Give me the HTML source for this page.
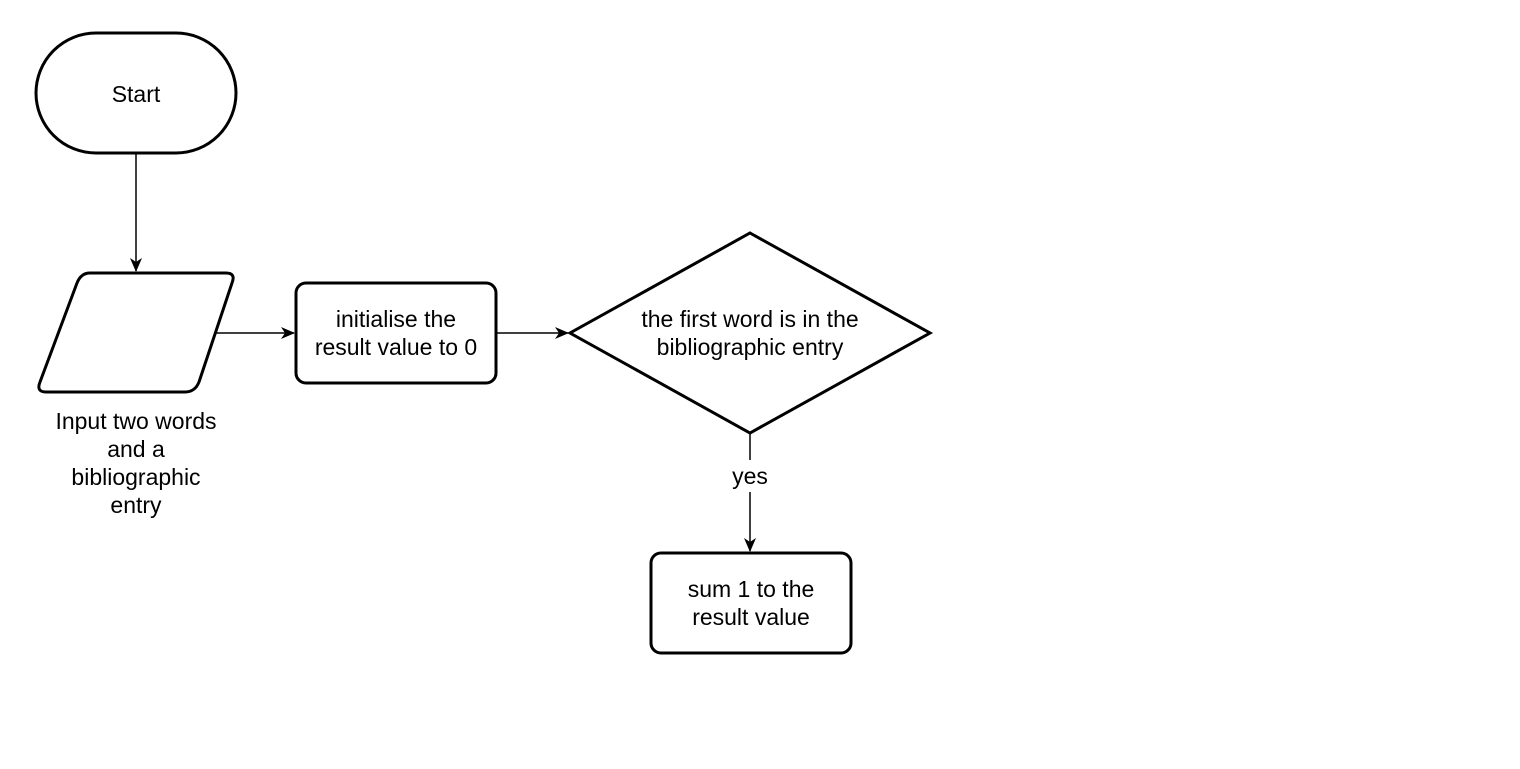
<!DOCTYPE html>
<html><head><style>body{margin:0;background:#fff}</style></head><body>
<svg width="1520" height="764" xmlns="http://www.w3.org/2000/svg" font-family="Liberation Sans, Arial, sans-serif" font-size="23" text-anchor="middle">
<defs><marker id="a" markerWidth="14" markerHeight="12" refX="13" refY="6" orient="auto" markerUnits="userSpaceOnUse"><path d="M0,0 L14,6 L0,12 L4,6 Z" fill="#000"/></marker></defs>
<g fill="#fff" stroke="#000" stroke-width="3">
<rect x="36" y="33" width="200" height="120" rx="60"/>
<path d="M90,273 L226,273 Q236,273 232,283 L199,382 Q195,392 185,392 L46,392 Q36,392 40,382 L77,283 Q81,273 90,273 Z"/>
<rect x="296" y="283" width="200" height="100" rx="10"/>
<path d="M750,233 L930,333 L750,433 L570,333 Z"/>
<rect x="651" y="553" width="200" height="100" rx="10"/>
</g>
<g stroke="#000" stroke-width="1.5" fill="none" marker-end="url(#a)">
<path d="M136,153 L136,271"/>
<path d="M215,333 L294,333"/>
<path d="M496,333 L568,333"/>
<path d="M750,433 L750,460 M750,492 L750,551"/>
</g>
<text x="136" y="102">Start</text>
<text x="396" y="327">initialise the</text>
<text x="396" y="355">result value to 0</text>
<text x="750" y="327">the first word is in the</text>
<text x="750" y="355">bibliographic entry</text>
<text x="751" y="597">sum 1 to the</text>
<text x="751" y="625">result value</text>
<text x="750" y="484">yes</text>
<text x="136" y="429">Input two words</text>
<text x="136" y="457">and a</text>
<text x="136" y="485">bibliographic</text>
<text x="136" y="513">entry</text>
</svg>
</body></html>
